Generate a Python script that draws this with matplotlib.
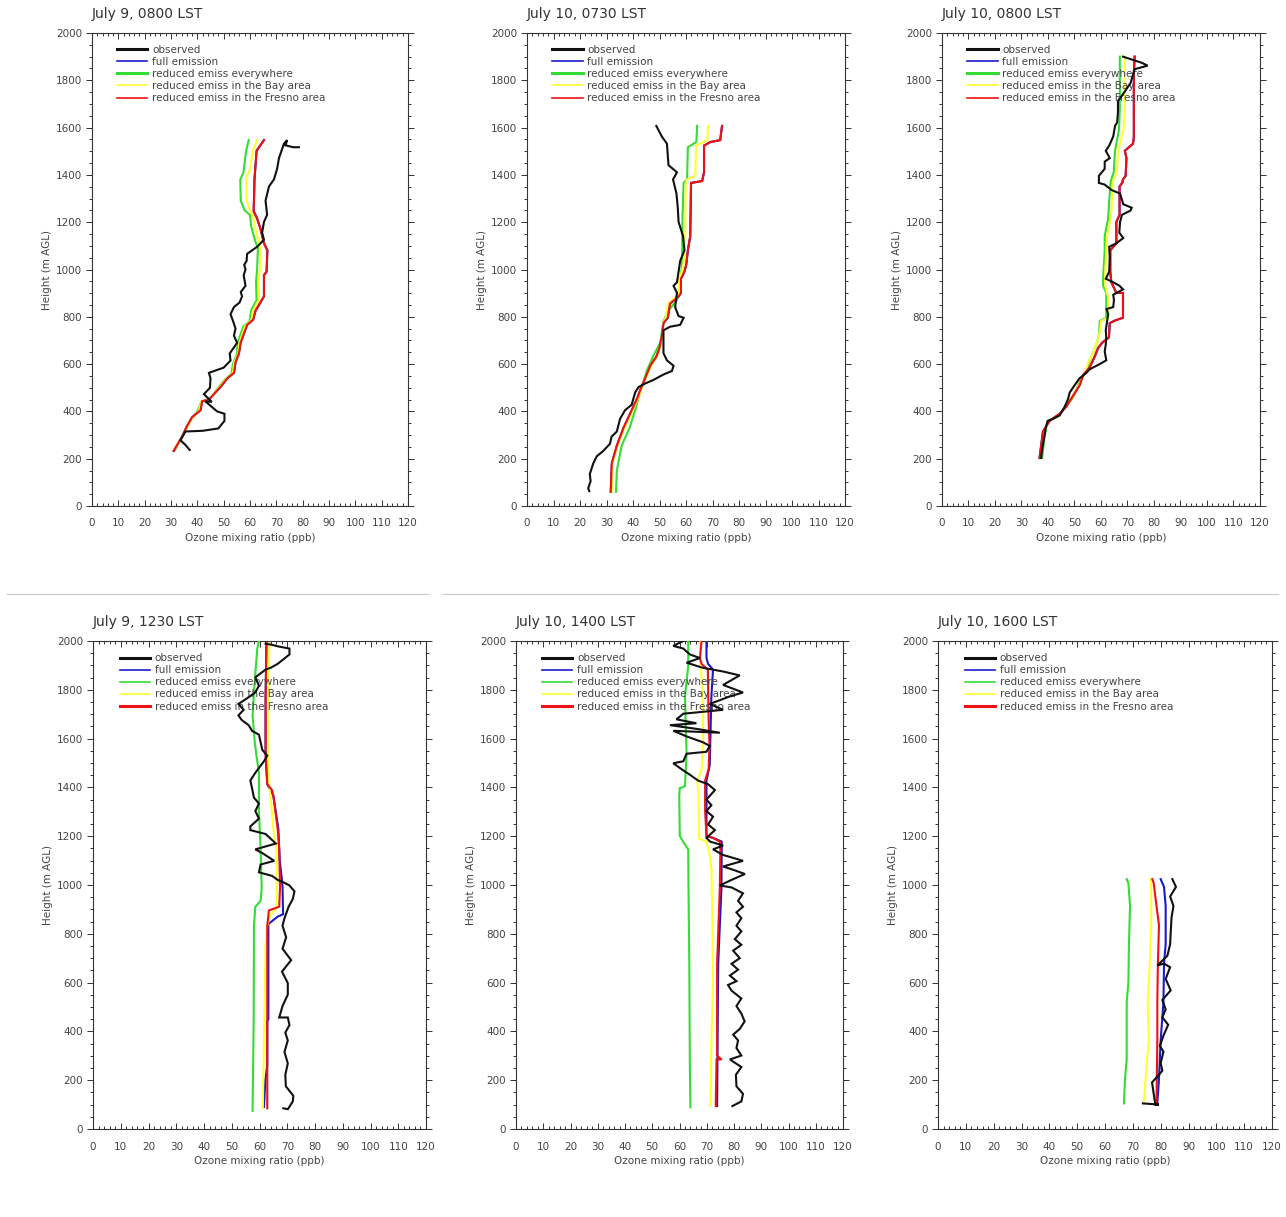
import matplotlib
matplotlib.use('Agg')
import matplotlib.pyplot as plt
from matplotlib.lines import Line2D
from matplotlib.ticker import MultipleLocator

plt.rcParams['font.family'] = ['DejaVu Sans']

# ---------------- data: (ozone ppb, height m AGL) ----------------
titles = ["July 9, 0800 LST", "July 10, 0730 LST", "July 10, 0800 LST",
          "July 9, 1230 LST", "July 10, 1400 LST", "July 10, 1600 LST"]
legend_labels = ["observed", "full emission", "reduced emiss everywhere",
                 "reduced emiss in the Bay area", "reduced emiss in the Fresno area"]

# Panel 1: July 9, 0800 LST
p1_obs = [(37.1,237),(35.5,258),(33.6,278),(35.5,315),(42,318),(48,328),(50.3,360),(50.3,390),
          (47.5,400),(43,443),(45.5,440),(42.5,473),(44.8,500),(45,540),(44.4,563),(50,585),
          (52.6,615),(52.3,645),(55.1,690),(53.9,720),(54.5,750),(53.6,781),(52.6,811),(53.9,841),
          (56,860),(57,886),(56.5,905),(58.3,931),(57.6,976),(58.3,1000),(57.8,1020),(58.7,1036),
          (58.9,1066),(62.7,1096),(65.3,1126),(64.6,1156),(65.3,1201),(66.5,1231),(65.9,1291),
          (67.2,1351),(69.1,1381),(70.3,1426),(71,1471),(72.9,1532),(74.1,1547),(73.5,1525),
          (76.4,1517),(78.6,1517)]
p1_fresno = [(31,233),(34.2,293),(36.1,338),(38,375),(41.2,405),(41.8,443),(44.4,450),(46.3,473),
             (48.8,503),(51.4,540),(53.9,563),(54.5,608),(55.8,645),(56.4,690),(58.9,766),(61.2,788),
             (62.1,826),(65.3,886),(65.3,976),(66.3,991),(66.6,1081),(65.3,1111),(64,1171),
             (62.7,1216),(61.4,1246),(61.7,1381),(62.5,1502),(65.3,1547)]
p1_full = p1_fresno  # full-emission curve lies beneath the Fresno curve
p1_every = [(31.5,237),(33.5,280),(35.5,320),(37.5,365),(40,400),(41.5,440),(44,450),(46,470),
            (48,500),(50.5,535),(53,560),(53.5,600),(55,640),(55.3,690),(57.5,760),(59.8,780),
            (60.5,830),(62.5,870),(62.3,950),(62.7,1000),(63,1090),(62,1120),(60.5,1180),(60,1230),
            (58,1250),(56.5,1290),(56.3,1380),(57.5,1410),(58.5,1500),(59.5,1547)]
p1_bay = [(31,235),(33.8,285),(35.8,325),(37.8,368),(40.5,402),(41.6,442),(44.2,450),(46.2,472),
          (48.5,502),(51,538),(53.5,562),(54,605),(55.5,643),(56,690),(58.2,762),(60.5,785),
          (61.2,828),(63.5,875),(63.3,960),(63.8,1000),(64,1085),(63.3,1120),(62,1175),(61.3,1220),
          (60,1250),(58.7,1290),(58.5,1390),(60,1420),(61,1500),(62.7,1547)]

# Panel 2: July 10, 0730 LST
p2_obs = [(23.5,63),(23.1,75),(24,105),(23.7,135),(25,180),(26.3,210),(28.8,233),(31.3,263),
          (31.9,293),(33.9,315),(35.1,368),(37,405),(39.5,428),(40.8,480),(42.1,503),(44.6,518),
          (47.7,533),(51.5,556),(54.7,571),(55.3,593),(52.8,616),(51.5,646),(51.5,706),(51.5,743),
          (54,758),(57.8,766),(59.1,796),(57.2,803),(55.9,841),(56.6,901),(55.3,931),(56.6,946),
          (57.2,991),(57.8,1036),(59.4,1081),(58.9,1141),(57.2,1201),(56.9,1261),(56.4,1321),
          (55.1,1381),(56.6,1411),(53.4,1441),(53.1,1486),(52.8,1532),(50.9,1562),(48.8,1607)]
p2_fresno = [(31.6,60),(32,180),(33.9,255),(36.4,330),(38.9,390),(41.7,458),(42.9,495),(44.6,540),
             (46.5,593),(48.8,631),(50,668),(50.9,721),(51.5,773),(53.1,796),(54,856),(57.2,886),
             (58.1,901),(58.1,961),(59.4,991),(60.1,1021),(60.7,1081),(61.6,1141),(61.9,1366),
             (66.1,1374),(66.8,1411),(66.8,1524),(69.2,1539),(72.9,1547),(73.6,1607)]
p2_full = p2_fresno  # full-emission curve lies beneath the Fresno curve
p2_every = [(33.6,60),(33.9,150),(35.7,255),(38.7,330),(40.8,405),(42.7,480),(45.2,571),(47.5,631),
            (50.3,691),(51.5,781),(53.4,826),(56.6,871),(57.8,931),(58.5,1021),(58.7,1231),
            (59.1,1366),(60.4,1381),(60.7,1517),(63.9,1539),(64.2,1607)]
p2_bay = [(32,60),(32.3,180),(34.2,255),(36.8,330),(39.3,390),(42,458),(43.2,495),(44.9,540),
          (46.8,593),(49,631),(50.2,668),(51,721),(51.4,773),(52.5,800),(53.2,856),(56.5,886),
          (57.4,901),(57.4,961),(58.5,991),(59,1021),(59.5,1081),(59.7,1141),(59.9,1366),(60.4,1381),
          (63.5,1396),(63.8,1524),(68,1547),(68.3,1607)]

# Panel 3: July 10, 0800 LST
p3_obs = [(37.4,203),(37.8,240),(39.3,338),(39.9,360),(41.8,368),(44.4,383),(46.3,420),(47.5,450),
          (48.2,480),(50,510),(51.9,540),(54.5,563),(55.7,578),(59.5,600),(62,616),(61.4,653),
          (61.8,683),(62,713),(61.8,743),(62.7,811),(62.1,833),(64.6,841),(64.9,871),(64.6,893),
          (68.3,916),(67,931),(64.6,946),(61.8,961),(63.1,991),(63.3,1051),(63.1,1096),(65.8,1111),
          (68.4,1133),(66.9,1156),(67.2,1201),(67.9,1231),(71.1,1249),(71.6,1261),(68.4,1276),
          (67.2,1321),(64,1336),(61.4,1359),(59.2,1366),(59.2,1396),(61.4,1426),(61.4,1456),
          (63.3,1471),(61.8,1502),(63.1,1524),(64.6,1562),(65.3,1607),(66.1,1622),(66.4,1667),
          (66.4,1712),(68.3,1742),(71.1,1787),(72.7,1847),(77.6,1862),(75.4,1874),(68.3,1900)]
p3_fresno = [(36.8,203),(38.1,315),(40.6,360),(44.4,390),(46.9,420),(49.4,465),(51.9,510),
             (53.4,556),(55.7,586),(57.6,631),(58.9,668),(60.5,691),(63,713),(63.3,773),(65.2,784),
             (68.3,796),(68.3,901),(65.8,901),(63.9,946),(63.5,991),(63.5,1081),(65.8,1111),
             (65.8,1201),(67,1231),(67,1351),(68,1366),(68.3,1381),(69.3,1396),(69.6,1471),
             (69,1502),(72.1,1532),(72.4,1562),(72.4,1832),(72.7,1900)]
p3_full = p3_fresno  # full-emission curve lies beneath the Fresno curve
p3_every = [(37.8,203),(38.7,293),(39.9,360),(43.1,375),(46.9,420),(49.4,458),(51.9,525),
            (54.5,571),(55.7,616),(57,646),(58.5,691),(59.3,728),(59.5,781),(62,796),(62,901),
            (60.8,931),(60.8,961),(61.4,1081),(61.4,1141),(62.7,1216),(63.1,1291),(63.7,1374),
            (64.8,1411),(65.3,1502),(66.8,1592),(67.1,1682),(67.1,1900)]
p3_bay = [(37.2,203),(38.3,300),(40.2,360),(43.7,378),(46.7,420),(49.2,460),(51.8,515),(54,565),
          (55.3,610),(56.8,640),(58.4,690),(59.5,730),(60,781),(62.8,796),(62.8,880),(61.8,920),
          (61.5,960),(62,1081),(62.3,1141),(63.7,1216),(64.2,1291),(64.6,1374),(66,1411),
          (66.5,1502),(68.5,1592),(69,1682),(69,1900)]

# Panel 4: July 9, 1230 LST
p4_obs = [(68.6,85),(70.2,81),(72,113),(72.2,136),(69.5,175),(69.3,222),(70.2,269),(69,316),
          (70.2,363),(69.3,395),(70.8,426),(70.2,457),(67.1,457),(68.3,504),(70.2,551),(70.2,598),
          (68.1,645),(71.4,692),(68.3,739),(69.6,786),(68.3,833),(69,864),(70.5,911),(72,943),
          (72.6,974),(70.8,998),(68.3,1013),(66.5,1021),(64.6,1037),(59.8,1052),(60.4,1084),
          (65.3,1099),(61,1131),(58.5,1146),(65.9,1170),(62.2,1209),(56.7,1225),(56.7,1240),
          (59.8,1272),(58.5,1303),(59.8,1334),(58,1358),(57.3,1397),(56.7,1428),(58.5,1460),
          (61.6,1507),(62.8,1530),(61,1554),(60.4,1585),(59.8,1616),(57.3,1632),(56.1,1655),
          (53.6,1676),(52.4,1695),(54.3,1718),(52.4,1742),(55.5,1765),(58.5,1789),(59.8,1817),
          (58.5,1851),(62.2,1883),(64,1890),(66.5,1906),(68.3,1922),(70.8,1945),(70.8,1969),
          (67.1,1977),(64.6,1984),(62.2,1989)]
p4_full = [(61.6,90),(62.1,200),(62.8,260),(62.8,440),(63.2,450),(63.2,840),(66.5,870),(68.5,880),
           (68.3,990),(68,1030),(67.3,1100),(66.8,1230),(65,1366),(62.8,1413),(62.2,1538),
           (62.2,1773),(62.5,1992)]
p4_every = [(57.5,74),(57.9,441),(58,833),(58.5,911),(60.4,935),(60.8,990),(60.4,1146),
            (59.8,1303),(59.8,1460),(58.8,1538),(58.3,1585),(57.5,1695),(57.9,1773),(58.5,1867),
            (59.2,1969),(59.8,2000)]
p4_bay = [(61.2,85),(61.6,363),(62.2,755),(62.8,833),(64,880),(66.1,904),(66.3,990),(66.1,1146),
          (65,1225),(64.2,1334),(63.6,1397),(63,1538),(63,1773),(63.6,1992)]
p4_fresno = [(62.8,85),(62.8,441),(62.8,833),(63.4,896),(67.1,911),(67.4,990),(67.1,1146),
             (66.6,1225),(65,1366),(64.5,1389),(62.8,1413),(62.2,1538),(62.2,1773),(62.5,1992)]

# Panel 5: July 10, 1400 LST
p5_obs = [(79.4,94),(82.7,113),(83.3,144),(80.9,175),(80.7,222),(82.7,254),(78.5,285),(82.7,301),
          (80.9,332),(81.5,363),(79.7,387),(82.1,410),(83.9,441),(82.7,473),(80.9,504),(82.7,535),
          (79.1,567),(77.8,590),(80.9,606),(78.5,629),(81.5,653),(79.1,677),(82.1,700),(79.7,731),
          (82.7,755),(80.3,778),(82.7,810),(80.9,833),(82.7,864),(80.9,888),(83.3,911),(81.5,935),
          (83.3,966),(79.1,990),(74.8,998),(79.1,1021),(84,1045),(80.3,1060),(76,1076),(83.3,1099),
          (78.5,1115),(76,1123),(72.3,1146),(76,1162),(71.2,1178),(69.9,1193),(73,1225),(70.5,1248),
          (72.3,1280),(69.9,1303),(71.7,1327),(69.9,1350),(73,1389),(70.5,1413),(66.8,1428),
          (63.8,1452),(60.7,1475),(57.7,1499),(61.4,1507),(62.6,1538),(69.9,1546),(71.1,1570),
          (68.6,1585),(62.6,1609),(57.7,1632),(74.8,1624),(66.2,1640),(56.5,1655),(66.2,1663),
          (58.9,1679),(61.4,1702),(76,1718),(71.1,1742),(78.5,1773),(83.3,1789),(76,1820),
          (82.1,1859),(76,1875),(68.6,1890),(62.6,1911),(67.5,1930),(63.8,1945),(61.4,1969),
          (57.7,1980),(61.4,2000)]
p5_full = [(73.8,94),(74.2,677),(75.4,990),(75.5,1178),(72.3,1193),(69.9,1201),(69.9,1428),
           (71.1,1491),(71.7,1773),(72.3,1883),(70.5,1906),(69.9,1930),(69.9,2000)]
p5_every = [(64,89),(63.8,254),(63.6,677),(63.3,990),(63.2,1146),(61.3,1178),(60.1,1201),
            (59.9,1366),(60.1,1397),(62,1405),(62.6,1538),(62,1773),(63.2,1898),(63.2,2000)]
p5_bay = [(71.4,94),(71.7,363),(72.3,598),(72.1,833),(71.7,1068),(70.9,1131),(69.9,1178),
          (67.2,1190),(67,1366),(66.5,1428),(68.1,1475),(68.5,1554),(68.7,1710),(68.1,1851),
          (67.5,1930),(67.7,2000)]
p5_fresno = [(73.3,94),(73.6,285),(75.4,285),(73.8,301),(73.8,677),(74.8,990),(75,1146),
             (74.8,1178),(72.3,1193),(69.9,1201),(69.4,1303),(69.4,1428),(70.7,1475),(71,1570),
             (70.7,1679),(70.4,1883),(68.1,1906),(67.5,1930),(68.1,2000)]

# Panel 6: July 10, 1600 LST
p6_obs = [(73.6,105),(79.4,100),(78.1,100),(77.5,144),(76.9,191),(78.8,215),(80.6,239),(80,270),
          (81,317),(79.7,341),(81.2,388),(82.7,427),(80.6,458),(81.8,490),(80.6,529),(83.6,568),
          (81.8,615),(83.4,663),(81.2,678),(78.8,670),(82.4,710),(83.4,757),(83.6,804),(83.9,867),
          (84.6,914),(83.4,953),(85.5,992),(84.2,1024)]
p6_full = [(78.8,105),(79.4,207),(80,364),(81,521),(81.2,678),(81.8,757),(81.8,914),(81.2,992),
           (80,1024)]
p6_every = [(66.8,105),(67.2,207),(67.8,286),(67.8,521),(68.4,600),(68.6,757),(69,914),(68.4,1008),
            (67.8,1024)]
p6_bay = [(73.9,105),(75.1,286),(75.7,364),(75.3,521),(76.1,678),(76.6,835),(76.6,992),(76.3,1024)]
p6_fresno = [(78.5,105),(78.8,364),(78.8,521),(79,678),(79.4,835),(78.5,914),(77.5,1008),(77,1024)]

panels = [
    (p1_obs, p1_full, p1_every, p1_bay, p1_fresno),
    (p2_obs, p2_full, p2_every, p2_bay, p2_fresno),
    (p3_obs, p3_full, p3_every, p3_bay, p3_fresno),
    (p4_obs, p4_full, p4_every, p4_bay, p4_fresno),
    (p5_obs, p5_full, p5_every, p5_bay, p5_fresno),
    (p6_obs, p6_full, p6_every, p6_bay, p6_fresno),
]
# which legend entries are drawn thicker in each panel
legend_thick = [(0, 2), (0, 2), (0, 2), (0, 4), (0, 4), (0, 4)]

# ---------------- styling ----------------
colors = ['#111111', '#1a1acc', '#33dd33', '#ffff33', '#ee1111']
draw_order = [1, 2, 3, 4, 0]
W, H = 1286, 1217
boxes = [(92, 33, 408, 506), (527, 33, 845, 506), (942, 33, 1260, 506),
         (93, 641, 426, 1129), (516, 641, 843, 1129), (938, 641, 1272, 1129)]
txt = '#444444'

fig = plt.figure(figsize=(W / 100, H / 100), dpi=100)
fig.patch.set_facecolor('white')

for i, (x0, y0, x1, y1) in enumerate(boxes):
    ax = fig.add_axes([x0 / W, 1 - y1 / H, (x1 - x0) / W, (y1 - y0) / H])
    series = panels[i]
    for k in draw_order:
        s = series[k]
        ax.plot([p[0] for p in s], [p[1] for p in s], color=colors[k],
                lw=1.5, zorder=2 + draw_order.index(k), solid_joinstyle='miter')
    ax.set_xlim(0, 120)
    ax.set_ylim(0, 2000)
    ax.xaxis.set_major_locator(MultipleLocator(10))
    ax.xaxis.set_minor_locator(MultipleLocator(2))
    ax.yaxis.set_major_locator(MultipleLocator(200))
    ax.yaxis.set_minor_locator(MultipleLocator(50))
    ax.tick_params(axis='x', which='both', direction='in', top=True, bottom=True,
                   colors='#333333', labelcolor=txt, labelsize=7.5, width=0.7)
    ax.tick_params(axis='x', which='major', length=4, pad=9)
    ax.tick_params(axis='x', which='minor', length=2.2)
    ax.tick_params(axis='y', which='both', direction='out', left=True, right=True,
                   colors='#333333', labelcolor=txt, labelsize=7.5, width=0.7)
    ax.tick_params(axis='y', which='major', length=4, pad=3)
    ax.tick_params(axis='y', which='minor', length=2.2)
    for sp in ax.spines.values():
        sp.set_color('#333333')
        sp.set_linewidth(0.8)
    ax.set_xlabel('Ozone mixing ratio (ppb)', fontsize=7.5, color=txt, labelpad=3)
    ax.set_ylabel('Height (m AGL)', fontsize=7.5, color=txt, labelpad=3)
    ax.annotate(titles[i], xy=(0, 1), xycoords='axes fraction', xytext=(0, 14),
                textcoords='offset points', ha='left', va='center', fontsize=10, color='#333333')
    handles = [Line2D([], [], color=colors[k], lw=(2.2 if k in legend_thick[i] else 1.2))
               for k in range(5)]
    ax.legend(handles, legend_labels, loc='upper left', bbox_to_anchor=(0.08, 0.975),
              frameon=False, fontsize=7.5, handlelength=2.9, handletextpad=0.45,
              labelspacing=0.2, borderpad=0, borderaxespad=0, labelcolor=txt)

# separators between the two rows
sep_y = 1 - 594 / H
for xa, xb in [(7, 428), (443, 1278)]:
    fig.add_artist(Line2D([xa / W, xb / W], [sep_y, sep_y], color='#cccccc', lw=0.9,
                          transform=fig.transFigure))

fig.savefig('out.png', dpi=100, facecolor='white')
